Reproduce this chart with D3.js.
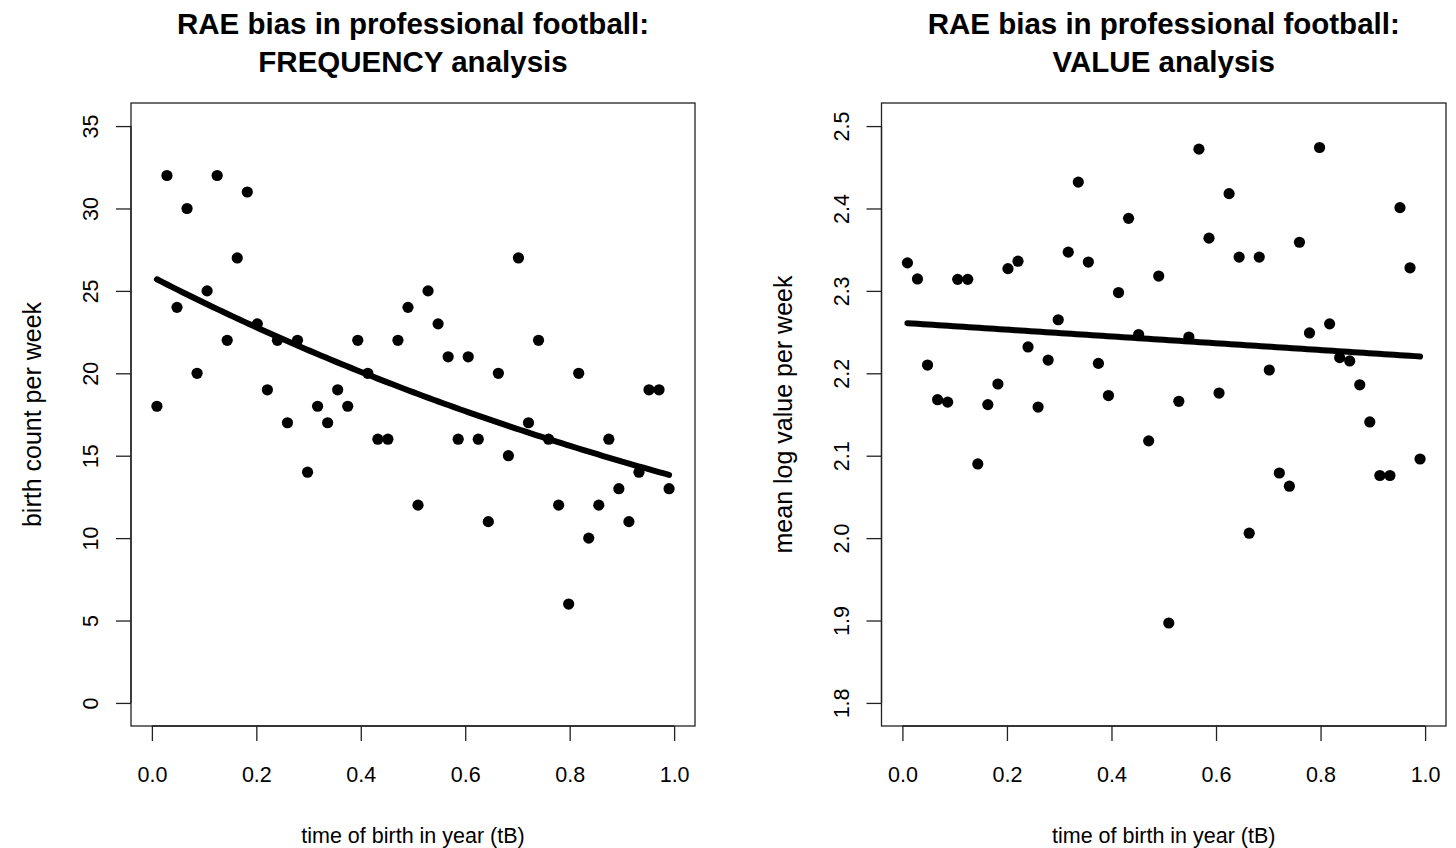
<!DOCTYPE html>
<html>
<head>
<meta charset="utf-8">
<script src="https://cdn.jsdelivr.net/npm/d3@7/dist/d3.min.js"></script>
<style>
  html, body { margin: 0; padding: 0; background: #fff; }
  svg { display: block; font-family: "Liberation Sans", Arial, Helvetica, sans-serif; }
</style>
</head>
<body>
<svg id="chart" width="1456" height="848"></svg>
<script>
// ---- data ----
const weekCount = 52;
const weekTime = d3.range(1, weekCount + 1).map(i => (i - 0.5) / weekCount);

const birthCounts = [18, 32, 24, 30, 20, 25, 32, 22, 27, 31, 23, 19, 22, 17, 22, 14, 18, 17, 19, 18,
  22, 20, 16, 16, 22, 24, 12, 25, 23, 21, 16, 21, 16, 11, 20, 15, 27, 17, 22, 16,
  12, 6, 20, 10, 12, 16, 13, 11, 14, 19, 19, 13];

const meanLogValues = [2.334, 2.3145, 2.210, 2.168, 2.165, 2.314, 2.314, 2.090, 2.162, 2.187,
  2.327, 2.336, 2.232, 2.159, 2.216, 2.265, 2.347, 2.432, 2.335, 2.212,
  2.173, 2.298, 2.388, 2.247, 2.118, 2.318, 1.897, 2.166, 2.244, 2.472,
  2.364, 2.176, 2.418, 2.341, 2.006, 2.341, 2.204, 2.079, 2.063, 2.359,
  2.249, 2.474, 2.260, 2.219, 2.215, 2.186, 2.141, 2.076, 2.076, 2.401,
  2.328, 2.096];

const xTicks = [0.0, 0.2, 0.4, 0.6, 0.8, 1.0];
const yTicksLeft = [0, 5, 10, 15, 20, 25, 30, 35];
const yTicksRight = [1.8, 1.9, 2.0, 2.1, 2.2, 2.3, 2.4, 2.5];

const titlesLeft = ["RAE bias in professional football:", "FREQUENCY analysis"];
const titlesRight = ["RAE bias in professional football:", "VALUE analysis"];
const xLabel = "time of birth in year (tB)";
const yLabelLeft = "birth count per week";
const yLabelRight = "mean log value per week";

// ---- model fits derived from the data ----
function poissonFit(x, y) {
  // IRLS for log-link Poisson regression
  let b0 = Math.log(d3.mean(y)), b1 = 0;
  for (let it = 0; it < 50; it++) {
    let sw = 0, swx = 0, swxx = 0, swz = 0, swxz = 0;
    for (let i = 0; i < x.length; i++) {
      const eta = b0 + b1 * x[i];
      const mu = Math.exp(eta);
      const z = eta + (y[i] - mu) / mu;
      const w = mu;
      sw += w; swx += w * x[i]; swxx += w * x[i] * x[i]; swz += w * z; swxz += w * x[i] * z;
    }
    const det = sw * swxx - swx * swx;
    b1 = (sw * swxz - swx * swz) / det;
    b0 = (swz - b1 * swx) / sw;
  }
  return [b0, b1];
}
function linearFit(x, y) {
  const mx = d3.mean(x), my = d3.mean(y);
  let sxy = 0, sxx = 0;
  for (let i = 0; i < x.length; i++) { sxy += (x[i] - mx) * (y[i] - my); sxx += (x[i] - mx) ** 2; }
  const b1 = sxy / sxx;
  return [my - b1 * mx, b1];
}

const svg = d3.select("#chart");
const FONT = "'Liberation Sans', Arial, sans-serif";

function panel(opts) {
  const { left, right, top, bottom, yDomain, yTicks, yFmt, titles, yLabel, values, fitFn } = opts;
  const x = d3.scaleLinear().domain([-0.04, 1.04]).range([left, right]);
  const y = d3.scaleLinear().domain(yDomain).range([bottom, top]);
  const g = svg.append("g");
  const cx = (left + right) / 2;

  // titles
  g.selectAll("text.title").data(titles).join("text")
    .attr("class", "title")
    .attr("x", cx)
    .attr("y", (d, i) => 34 + i * 38)
    .attr("text-anchor", "middle")
    .attr("font-weight", "bold")
    .attr("font-size", 29.5)
    .attr("fill", "#000")
    .text(d => d);

  // box
  g.append("rect")
    .attr("x", left).attr("y", top)
    .attr("width", right - left).attr("height", bottom - top)
    .attr("fill", "none").attr("stroke", "#222").attr("stroke-width", 1.3);

  // x axis
  const xAxis = d3.axisBottom(x).tickValues(xTicks).tickFormat(d3.format(".1f"))
    .tickSize(15).tickPadding(26);
  const gx = g.append("g").attr("transform", `translate(0,${bottom})`).call(xAxis);
  gx.select(".domain").attr("d", `M${x(xTicks[0])},0H${x(xTicks[xTicks.length - 1])}`)
    .attr("stroke", "#222").attr("stroke-width", 1.3);
  gx.selectAll(".tick line").attr("stroke", "#222").attr("stroke-width", 1.3);
  gx.selectAll(".tick text").attr("font-size", 21.5).attr("fill", "#000")
    .attr("font-family", FONT);

  // y axis
  const yAxis = d3.axisLeft(y).tickValues(yTicks).tickFormat(yFmt).tickSize(15).tickPadding(0);
  const gy = g.append("g").attr("transform", `translate(${left},0)`).call(yAxis);
  gy.select(".domain").attr("d", `M0,${y(yTicks[0])}V${y(yTicks[yTicks.length - 1])}`)
    .attr("stroke", "#222").attr("stroke-width", 1.3);
  gy.selectAll(".tick line").attr("stroke", "#222").attr("stroke-width", 1.3);
  gy.selectAll(".tick text")
    .attr("font-size", 21.5).attr("fill", "#000")
    .attr("font-family", FONT)
    .attr("x", null).attr("dy", null)
    .attr("text-anchor", "middle")
    .attr("transform", "translate(-40,0) rotate(-90)")
    .attr("dominant-baseline", "central");

  // axis labels
  g.append("text")
    .attr("x", cx).attr("y", 843)
    .attr("text-anchor", "middle").attr("font-size", 21.5).attr("fill", "#000")
    .text(xLabel);
  g.append("text")
    .attr("transform", `translate(${left - 99},${(top + bottom) / 2}) rotate(-90)`)
    .attr("text-anchor", "middle").attr("dominant-baseline", "central")
    .attr("font-size", 25).attr("fill", "#000")
    .text(yLabel);

  // points
  g.selectAll("circle.pt").data(values).join("circle")
    .attr("class", "pt")
    .attr("cx", (d, i) => x(weekTime[i]))
    .attr("cy", d => y(d))
    .attr("r", 5.6)
    .attr("fill", "#000");

  // fitted curve
  const xs = d3.range(0, 101).map(k => weekTime[0] + (weekTime[weekCount - 1] - weekTime[0]) * k / 100);
  const line = d3.line().x(d => x(d)).y(d => y(fitFn(d)));
  g.append("path").datum(xs)
    .attr("d", line)
    .attr("fill", "none").attr("stroke", "#000").attr("stroke-width", 6)
    .attr("stroke-linecap", "round").attr("stroke-linejoin", "round");
}

const [pb0, pb1] = poissonFit(weekTime, birthCounts);
const [lb0, lb1] = linearFit(weekTime, meanLogValues);

panel({
  left: 131, right: 695, top: 103, bottom: 726,
  yDomain: [-1.4, 36.4], yTicks: yTicksLeft, yFmt: d3.format("d"),
  titles: titlesLeft, yLabel: yLabelLeft, values: birthCounts,
  fitFn: t => Math.exp(pb0 + pb1 * t)
});
panel({
  left: 881.5, right: 1446, top: 103, bottom: 726,
  yDomain: [1.772, 2.528], yTicks: yTicksRight, yFmt: d3.format(".1f"),
  titles: titlesRight, yLabel: yLabelRight, values: meanLogValues,
  fitFn: t => lb0 + lb1 * t
});
</script>
</body>
</html>
